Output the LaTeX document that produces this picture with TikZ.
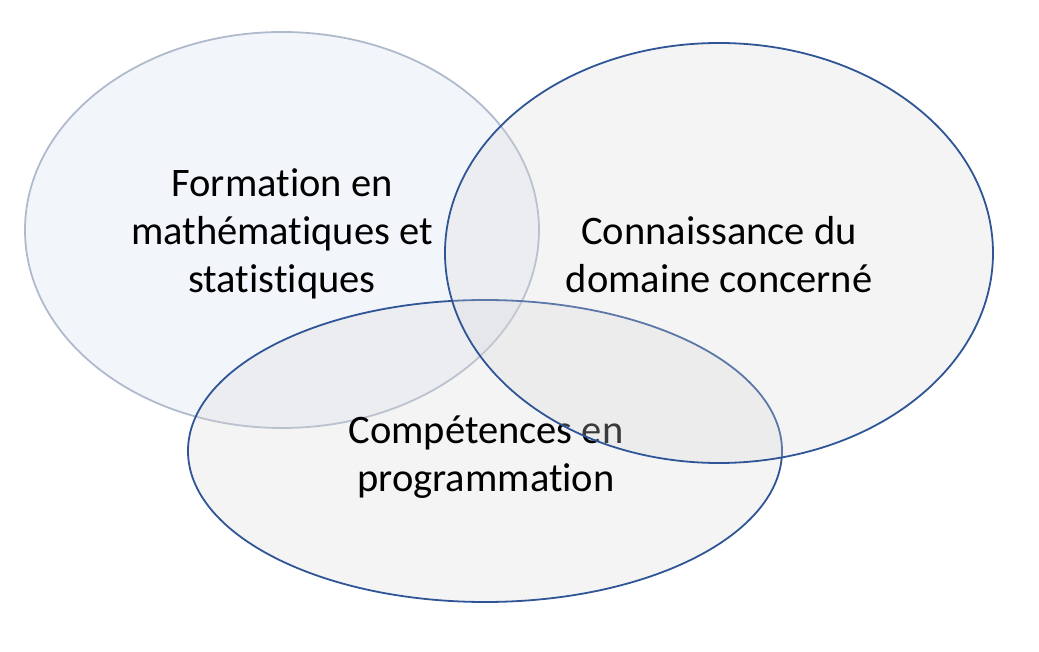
\documentclass[tikz,border=0pt]{standalone}
\usepackage{fontspec}
\setmainfont{Carlito}[RawFeature={-liga}]
\definecolor{bordblue}{RGB}{47,85,151}
\definecolor{bordlight}{RGB}{176,186,205}
\definecolor{fillblue}{RGB}{222,231,245}
\definecolor{fillgrey}{RGB}{215,215,215}
\tikzset{
  setA/.style={draw=bordlight, line width=1.8pt, fill=fillblue, fill opacity=0.38},
  setB/.style={draw=bordblue, line width=1.8pt, fill=fillgrey, fill opacity=0.27},
  label/.style={align=center, inner sep=0pt, text=black, text opacity=1,
    font=\fontsize{40.5}{48}\selectfont}
}
\begin{document}
\begin{tikzpicture}[x=1pt,y=1pt]
\useasboundingbox (0,0) rectangle (1039,651);
\draw[setA] (282,421) ellipse [x radius=257, y radius=198];
\node[label] (maths) at (282,417) {Formation en\\mathématiques et\\statistiques};
\draw[setB] (485,200) ellipse [x radius=297, y radius=151];
\node[label] (prog) at (486,194) {Compétences en\\programmation};
\draw[setB] (719,398) ellipse [x radius=274, y radius=210];
\node[label] (domaine) at (719,396) {Connaissance du\\domaine concerné};
\end{tikzpicture}
\end{document}
